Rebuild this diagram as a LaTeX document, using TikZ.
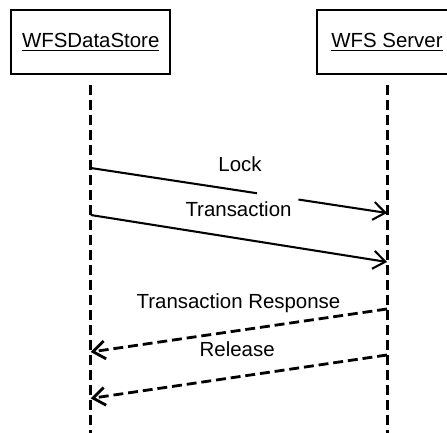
\documentclass[tikz,border=0pt]{standalone}
\usepackage{fontspec}
\setmainfont{Liberation Sans}
\usepackage{tikz}
\usetikzlibrary{arrows.meta}

\tikzset{
  objbox/.style={rectangle, draw, line width=1.1pt,
    minimum height=34pt, font=\fontsize{10.9}{13}\selectfont},
  lifeline/.style={line width=1.6pt, dash pattern=on 5.6pt off 2.4pt},
  callmsg/.style={line width=1.1pt, -{Straight Barb[length=6.4pt, width=9.6pt]}},
  replymsg/.style={line width=1.5pt, dash pattern=on 5.3pt off 2.6pt,
    -{Straight Barb[length=6.4pt, width=9.6pt]}},
  msglabel/.style={anchor=base, inner xsep=2.5pt, inner ysep=2pt,
    text height=10.3pt, text depth=2.3pt, font=\fontsize{10.9}{13}\selectfont}
}

\begin{document}
\begin{tikzpicture}[scale=0.75]
\clip (0,0) rectangle (11.175,10.8);

% objects
\node[objbox, minimum width=84.8pt] (store) at (2.2675,9.75) {\underline{WFSDataStore}};
\node[objbox, minimum width=74.7pt] (server) at (9.675,9.75) {\underline{WFS Server}};

% lifelines
\coordinate (storetop) at (2.2675,8.675);
\coordinate (storebot) at (2.2675,-0.3);
\coordinate (servertop) at (9.675,8.675);
\coordinate (serverbot) at (9.675,-0.3);
\draw[lifeline] (storetop) -- (storebot);
\draw[lifeline] (servertop) -- (serverbot);

% message ends
\coordinate (locka) at (2.2675,6.6);
\coordinate (lockb) at (9.675,5.475);
\coordinate (transa) at (2.2675,5.425);
\coordinate (transb) at (9.675,4.25);
\coordinate (respa) at (9.675,3.075);
\coordinate (respb) at (2.2675,2.0);
\coordinate (rela) at (9.675,1.925);
\coordinate (relb) at (2.2675,0.84);

% lock line is broken where the Transaction label sits on it
\draw[callmsg, dash pattern=on 89.7pt off 22.4pt on 80pt] (locka) -- (lockb);
\draw[callmsg] (transa) -- (transb);
\draw[replymsg] (respa) -- (respb);
\draw[replymsg] (rela) -- (relb);

% labels
\node[msglabel] (lock) at (6.0,6.525) {Lock};
\node[msglabel] (trans) at (5.9625,5.4) {Transaction};
\node[msglabel] (resp) at (5.9625,3.1) {Transaction Response};
\node[msglabel] (rel) at (5.93,1.8825) {Release};

\end{tikzpicture}
\end{document}
